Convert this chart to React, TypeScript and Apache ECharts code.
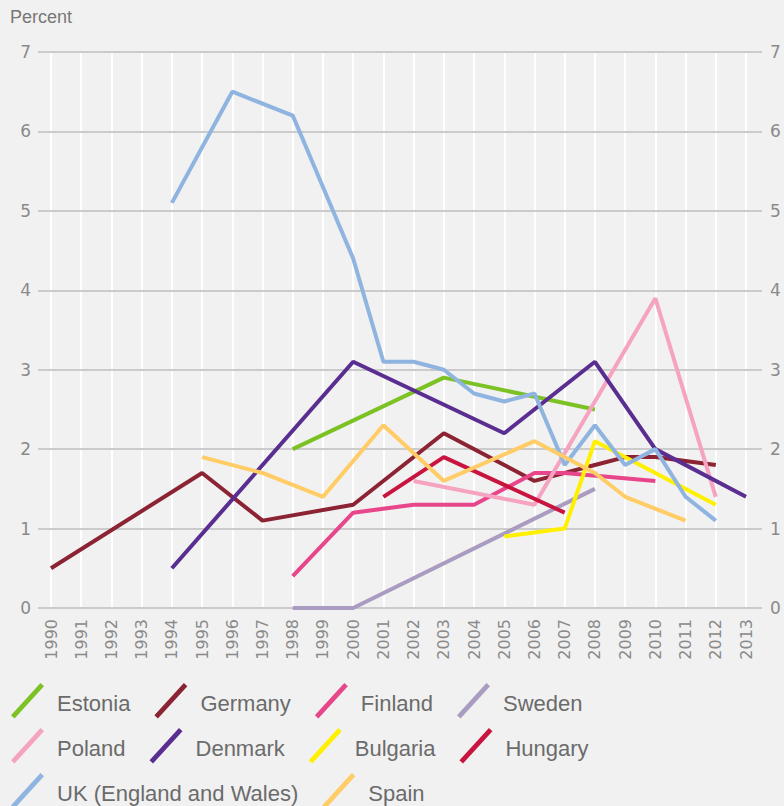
import React, { useEffect, useRef } from "react";
import * as echarts from "echarts";

const years = [
  "1990","1991","1992","1993","1994","1995","1996","1997","1998","1999","2000","2001",
  "2002","2003","2004","2005","2006","2007","2008","2009","2010","2011","2012","2013",
];
const yTicks = [0, 1, 2, 3, 4, 5, 6, 7];

const estonia = [["1998", 2.0], ["2003", 2.9], ["2008", 2.5]];
const germany = [["1990", 0.5], ["1995", 1.7], ["1997", 1.1], ["2000", 1.3], ["2003", 2.2], ["2006", 1.6], ["2008", 1.8], ["2009", 1.9], ["2010", 1.9], ["2012", 1.8]];
const finland = [["1998", 0.4], ["2000", 1.2], ["2002", 1.3], ["2004", 1.3], ["2006", 1.7], ["2007", 1.7], ["2010", 1.6]];
const sweden = [["1998", 0], ["2000", 0], ["2008", 1.5]];
const poland = [["2002", 1.6], ["2006", 1.3], ["2010", 3.9], ["2012", 1.4]];
const denmark = [["1994", 0.5], ["2000", 3.1], ["2005", 2.2], ["2008", 3.1], ["2010", 2.0], ["2013", 1.4]];
const bulgaria = [["2005", 0.9], ["2007", 1.0], ["2008", 2.1], ["2010", 1.7], ["2012", 1.3]];
const hungary = [["2001", 1.4], ["2003", 1.9], ["2007", 1.2]];
const uk = [["1994", 5.1], ["1996", 6.5], ["1998", 6.2], ["2000", 4.4], ["2001", 3.1], ["2002", 3.1], ["2003", 3.0], ["2004", 2.7], ["2005", 2.6], ["2006", 2.7], ["2007", 1.8], ["2008", 2.3], ["2009", 1.8], ["2010", 2.0], ["2011", 1.4], ["2012", 1.1]];
const spain = [["1995", 1.9], ["1997", 1.7], ["1999", 1.4], ["2001", 2.3], ["2003", 1.6], ["2006", 2.1], ["2008", 1.7], ["2009", 1.4], ["2011", 1.1]];

const seriesNames = ["Estonia", "Germany", "Finland", "Sweden", "Poland", "Denmark", "Bulgaria", "Hungary", "UK (England and Wales)", "Spain"];
const seriesData = [estonia, germany, finland, sweden, poland, denmark, bulgaria, hungary, uk, spain];
const seriesColors = ["#7cc225", "#8b2333", "#e8468a", "#a99cc0", "#f5a3c0", "#5a2d91", "#fff000", "#c8143e", "#8fb4e0", "#ffcc66"];

const legendRows = [
  ["Estonia", "Germany", "Finland", "Sweden"],
  ["Poland", "Denmark", "Bulgaria", "Hungary"],
  ["UK (England and Wales)", "Spain"],
];

const FONT = "'Liberation Sans', Arial, sans-serif";
const AXISFONT = "'DejaVu Sans', sans-serif";
const slashIcon = "path://M0,34 L31,0 L34.7,3.4 L3.7,37.4 Z";

export default function App() {
  const ref = useRef<HTMLDivElement>(null);
  useEffect(() => {
    document.body.style.margin = "0";
    if (!ref.current) return;
    const chart = echarts.init(ref.current, null, { renderer: "svg" });
    const legendTops = [683, 728, 773];
    const option = {
      animation: false,
      backgroundColor: "#f1f1f1",
      textStyle: { fontFamily: FONT },
      graphic: [
        {
          type: "text",
          left: 10,
          top: 8,
          style: { text: "Percent", fill: "#777777", fontSize: 18, fontFamily: FONT },
        },
      ],
      grid: [
        { left: 51, right: 38, top: 52, bottom: 198 },
        { left: 38, right: 22, top: 52, bottom: 198 },
      ],
      xAxis: [
        {
          type: "category",
          gridIndex: 0,
          data: years,
          boundaryGap: false,
          axisLine: { show: false },
          axisTick: { show: false },
          axisLabel: { rotate: 90, margin: 11, color: "#8a8a8a", fontSize: 16, fontFamily: AXISFONT, interval: 0 },
          splitLine: { show: true, interval: 0, lineStyle: { color: "#ffffff", width: 2 } },
          z: 0,
        },
        { type: "value", gridIndex: 1, show: false, min: 0, max: 1 },
      ],
      yAxis: [
        { type: "value", gridIndex: 0, min: 0, max: 7, interval: 1, show: false },
        {
          type: "value",
          gridIndex: 1,
          min: 0,
          max: 7,
          interval: 1,
          position: "left",
          axisLine: { show: false },
          axisTick: { show: false },
          axisLabel: { margin: 7, color: "#8a8a8a", fontSize: 17, fontFamily: AXISFONT, formatter: (v: number) => (yTicks.includes(v) ? String(v) : "") },
          splitLine: { show: true, lineStyle: { color: "#cbcbcb", width: 2 } },
          z: 1,
        },
        {
          type: "value",
          gridIndex: 1,
          min: 0,
          max: 7,
          interval: 1,
          position: "right",
          axisLine: { show: false },
          axisTick: { show: false },
          axisLabel: { margin: 8, color: "#8a8a8a", fontSize: 17, fontFamily: AXISFONT },
          splitLine: { show: false },
          z: 1,
        },
      ],
      legend: legendRows.map((row, i) => ({
        data: row,
        left: 11,
        top: legendTops[i],
        padding: 0,
        orient: "horizontal",
        itemWidth: 33,
        itemHeight: 36,
        itemGap: 24,
        icon: slashIcon,
        selectedMode: false,
        formatter: (name: string) => `{a|${name}}`,
        textStyle: {
          fontSize: 22,
          color: "#6b6b6b",
          fontFamily: FONT,
          padding: [0, 0, 0, 8],
          rich: { a: { fontSize: 22, color: "#6b6b6b", fontFamily: FONT, padding: [6, 0, 0, 0] } },
        },
      })),
      series: seriesNames.map((name, i) => ({
        name,
        type: "line",
        xAxisIndex: 0,
        yAxisIndex: 0,
        data: seriesData[i],
        color: seriesColors[i],
        itemStyle: { color: seriesColors[i] },
        lineStyle: { color: seriesColors[i], width: 4 },
        symbol: "none",
        showSymbol: false,
        connectNulls: true,
        z: 2,
      })),
    };
    chart.setOption(option as any);
    return () => chart.dispose();
  }, []);
  return <div ref={ref} style={{ width: 784, height: 806 }} />;
}
